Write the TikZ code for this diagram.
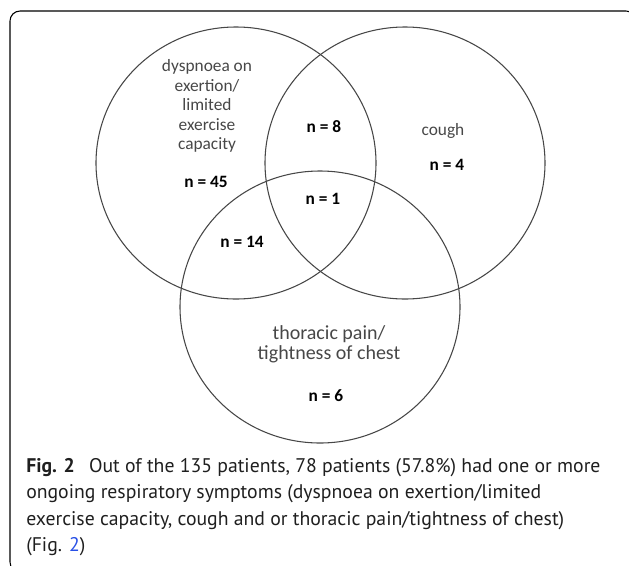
\documentclass[tikz,border=0pt]{standalone}
\usepackage{fontspec}
\setmainfont{Carlito}
\newfontfamily\capfont{PT Sans}
\usetikzlibrary{positioning}
\definecolor{linkblue}{RGB}{40,80,230}

\begin{document}
\begin{tikzpicture}[x=0.75pt,y=-0.75pt,
  set line/.style={draw=black!72,line width=0.8pt},
  set name/.style={align=center,text=black!72,inner sep=0pt,
    font=\fontsize{13}{14.6}\selectfont},
  count node/.style={text=black,inner sep=0pt,
    font=\fontsize{13}{15}\selectfont\bfseries},
  caption line/.style={anchor=base west,inner sep=0pt,text=black!88,
    font=\capfont\fontsize{14.8}{20}\selectfont}]

  \useasboundingbox (0,0) rectangle (629,565);
  \clip (0,0) rectangle (629,565);
  \draw[line width=0.8pt,rounded corners=7.5pt] (10,11) rectangle (636,572);

  % the three symptom sets
  \coordinate (dys) at (236,163);
  \coordinate (cou) at (405,163);
  \coordinate (tho) at (320,307);
  \foreach \c in {dys,cou,tho}
    \draw[set line] (\c) ellipse [x radius=140,y radius=136];

  \node[set name] (dys name) at (207,106) {dyspnoea on\\exertion/\\limited\\exercise\\capacity};
  \node[set name] (cou name) at (443,131) {cough};
  \node[set name,font=\fontsize{15}{15}\selectfont] (tho name) at (329,344) {thoracic pain/\\tightness of chest};

  \node[count node] (n45) at (206,182) {n = 45};
  \node[count node] (n8)  at (324,127) {n = 8};
  \node[count node] (n4)  at (447,165) {n = 4};
  \node[count node] (n1)  at (323,199) {n = 1};
  \node[count node] (n14) at (242,242) {n = 14};
  \node[count node] (n6)  at (326,396) {n = 6};

  % caption
  \node[caption line] (cap1) at (26,472) {\textbf{Fig. 2}\hspace{0.45em} Out of the 135 patients, 78 patients (57.8\%) had one or more};
  \node[caption line] (cap2) at (26,498.5) {ongoing respiratory symptoms (dyspnoea on exertion/limited};
  \node[caption line] (cap3) at (26,525) {exercise capacity, cough and or thoracic pain/tightness of chest)};
  \node[caption line] (cap4) at (26,551.5) {(Fig. \textcolor{linkblue}{2})};
\end{tikzpicture}
\end{document}
